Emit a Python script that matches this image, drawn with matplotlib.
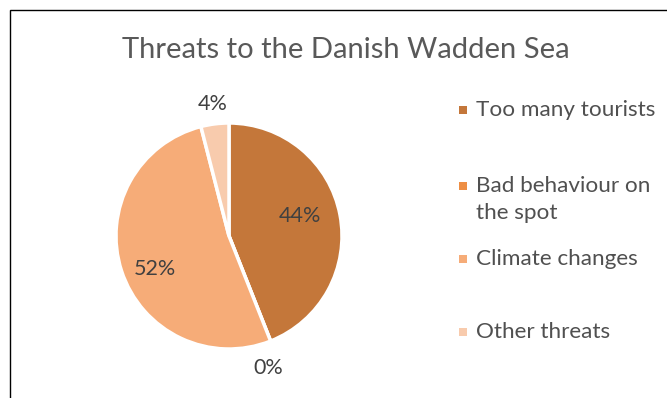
import matplotlib.pyplot as plt
from matplotlib.patches import Rectangle

# threat categories and their shares (%)
categories = ["Too many tourists", "Bad behaviour on\nthe spot", "Climate changes", "Other threats"]
shares = [44, 0, 52, 4]
colors = ["#C4773A", "#EE8E44", "#F6AC78", "#F8CBAD"]

TEXT = "#404040"
FONT = "Lato"

fig = plt.figure(figsize=(6.67, 3.98), dpi=100)

# chart frame (runs off the right and bottom edges)
fig.patches.append(Rectangle((10 / 667, -0.1), 1.2, 1 - 10 / 398 + 0.1,
                             transform=fig.transFigure, fill=False,
                             edgecolor="#000000", linewidth=1.0))

fig.text(346 / 667, 1 - 58 / 398, "Threats to the Danish Wadden Sea",
         ha="center", va="baseline", fontsize=21, color="#595959", family=FONT)

# pie centred around (229, 236) px, radius ~113 px
ax = fig.add_axes([(229 - 113) / 667, (398 - 236 - 113) / 398, 226 / 667, 226 / 398])
wedges, _ = ax.pie(shares, colors=colors, startangle=90, counterclock=False,
                   wedgeprops=dict(edgecolor="white", linewidth=2.5))
ax.set_xlim(-1, 1)
ax.set_ylim(-1, 1)
ax.set_aspect("equal")

# data labels
label_pos = [(300, 216), (268, 368), (155, 269), (213, 104)]
for val, (px, py) in zip(shares, label_pos):
    fig.text(px / 667, 1 - py / 398, f"{val}%", ha="center", va="center",
             fontsize=15.5, color=TEXT, family=FONT)

# legend: square marker plus text, each wrapped line placed 27 px apart
legend_y = [110, 186, 259, 332]
for name, col, ly in zip(categories, colors, legend_y):
    fig.patches.append(Rectangle((459 / 667, 1 - (ly + 4) / 398), 8 / 667, 8 / 398,
                                 transform=fig.transFigure, facecolor=col,
                                 edgecolor="none"))
    for i, line in enumerate(name.split("\n")):
        fig.text(476 / 667, 1 - (ly + 6 + 27 * i) / 398, line, ha="left",
                 va="baseline", fontsize=16.2, color="#505050", family=FONT)

fig.savefig("out.png", dpi=100)
